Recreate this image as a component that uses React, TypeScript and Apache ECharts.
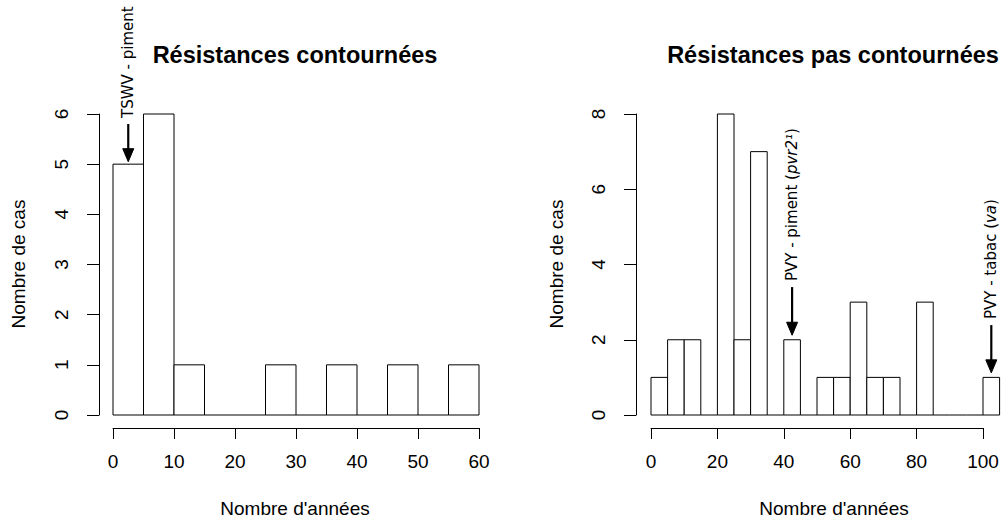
import React, { useEffect, useRef } from "react";
import * as echarts from "echarts";

// Histogram bin edges and counts
const leftBreaks = [0, 5, 10, 15, 20, 25, 30, 35, 40, 45, 50, 55, 60];
const leftCounts = [5, 6, 1, 0, 0, 1, 0, 1, 0, 1, 0, 1];

const rightBreaks = [0, 5, 10, 15, 20, 25, 30, 35, 40, 45, 50, 55, 60, 65, 70, 75, 80, 85, 90, 95, 100, 105];
const rightCounts = [1, 2, 2, 0, 8, 2, 7, 0, 2, 0, 1, 1, 3, 1, 1, 0, 3, 0, 0, 0, 1];

// Annotation arrows: x position, arrow top, arrow tip (data units)
const leftNotes = [{ x: 2.5, yFrom: 5.8, yTo: 5.05, label: "TSWV - piment" }];
const rightNotes = [
  { x: 42.5, yFrom: 3.4, yTo: 2.12, label: "PVY - piment ({i|pvr2¹})" },
  { x: 102.5, yFrom: 2.39, yTo: 1.12, label: "PVY - tabac ({i|va})" },
];

const titles = ["Résistances contournées", "Résistances pas contournées"];
const xName = "Nombre d'années";
const yName = "Nombre de cas";

const FONT = "Helvetica";
const NOTE_FONT = "DejaVu Sans";

function binsData(breaks: number[], counts: number[]) {
  return counts.map((c, i) => [breaks[i], breaks[i + 1], c]);
}

function histItem(params: any, api: any) {
  const x0 = api.value(0);
  const x1 = api.value(1);
  const c = api.value(2);
  const p0 = api.coord([x0, 0]);
  const p1 = api.coord([x1, c]);
  if (c === 0) {
    return {
      type: "line",
      shape: { x1: p0[0], y1: p0[1], x2: p1[0], y2: p0[1] },
      style: { stroke: "#000", lineWidth: 1 },
    };
  }
  return {
    type: "rect",
    shape: { x: p0[0], y: p1[1], width: p1[0] - p0[0], height: p0[1] - p1[1] },
    style: { fill: "#fff", stroke: "#000", lineWidth: 1 },
  };
}

function noteItem(notes: any[]) {
  return (params: any, api: any) => {
    const n = notes[params.dataIndex];
    const top = api.coord([api.value(0), api.value(1)]);
    const tip = api.coord([api.value(0), api.value(2)]);
    const hl = 13;
    const hw = 5.5;
    return {
      type: "group",
      children: [
        {
          type: "line",
          shape: { x1: top[0], y1: top[1], x2: tip[0], y2: tip[1] - hl + 2 },
          style: { stroke: "#000", lineWidth: 2.2 },
        },
        {
          type: "polygon",
          shape: {
            points: [
              [tip[0] - hw, tip[1] - hl],
              [tip[0] + hw, tip[1] - hl],
              [tip[0], tip[1]],
            ],
          },
          style: { fill: "#000", stroke: "#000", lineWidth: 1 },
        },
        {
          type: "text",
          x: top[0],
          y: top[1] - 6,
          rotation: Math.PI / 2,
          style: {
            text: n.label,
            fill: "#000",
            fontFamily: NOTE_FONT,
            fontSize: 15,
            align: "left",
            verticalAlign: "middle",
            rich: {
              i: { fontStyle: "italic", fontFamily: NOTE_FONT, fontSize: 15, fill: "#000" },
            },
          },
        },
      ],
    };
  };
}

const axisLabelStyle = { color: "#000", fontFamily: FONT, fontSize: 19 };

function txt(text: string, x: number, y: number, size: number, bold: boolean, rot: number) {
  return {
    type: "text",
    x,
    y,
    rotation: rot,
    style: {
      text,
      fontFamily: FONT,
      fontSize: size,
      fontWeight: bold ? "bold" : "normal",
      fill: "#000",
      align: "center",
      verticalAlign: "middle",
    },
  };
}

export default function App() {
  const ref = useRef<HTMLDivElement>(null);
  useEffect(() => {
    if (!ref.current) return;
    const chart = echarts.init(ref.current, undefined, { renderer: "svg" });
    const yAxisCommon = {
      type: "value",
      min: 0,
      splitLine: { show: false },
      axisLine: { show: true, onZero: false, lineStyle: { color: "#000", width: 1 } },
      axisTick: { show: true, length: 12, lineStyle: { color: "#000" } },
      axisLabel: { ...axisLabelStyle, rotate: 90, margin: 28 },
    };
    const xAxisCommon = {
      type: "value",
      min: 0,
      splitLine: { show: false },
      axisLine: { show: true, onZero: false, lineStyle: { color: "#000", width: 1 } },
      axisTick: { show: true, length: 11, lineStyle: { color: "#000" } },
      axisLabel: { ...axisLabelStyle, margin: 24 },
    };
    chart.setOption({
      animation: false,
      backgroundColor: "#fff",
      grid: [
        { left: 113, top: 114, width: 366, height: 301 },
        { left: 651, top: 114, width: 332, height: 301 },
      ],
      xAxis: [
        { ...xAxisCommon, gridIndex: 0, max: 60, interval: 10, offset: 13 },
        { ...xAxisCommon, gridIndex: 1, max: 100, interval: 20, offset: 13 },
      ],
      yAxis: [
        { ...yAxisCommon, gridIndex: 0, max: 6, interval: 1, offset: 14 },
        { ...yAxisCommon, gridIndex: 1, max: 8, interval: 2, offset: 15 },
      ],
      series: [
        {
          type: "custom",
          xAxisIndex: 0,
          yAxisIndex: 0,
          clip: false,
          renderItem: histItem,
          data: binsData(leftBreaks, leftCounts),
        },
        {
          type: "custom",
          xAxisIndex: 1,
          yAxisIndex: 1,
          clip: false,
          renderItem: histItem,
          data: binsData(rightBreaks, rightCounts),
        },
        {
          type: "custom",
          xAxisIndex: 0,
          yAxisIndex: 0,
          clip: false,
          renderItem: noteItem(leftNotes),
          data: leftNotes.map((n) => [n.x, n.yFrom, n.yTo]),
        },
        {
          type: "custom",
          xAxisIndex: 1,
          yAxisIndex: 1,
          clip: false,
          renderItem: noteItem(rightNotes),
          data: rightNotes.map((n) => [n.x, n.yFrom, n.yTo]),
        },
      ],
      graphic: [
        txt(titles[0], 295, 55, 23.5, true, 0),
        txt(titles[1], 833, 55, 23.5, true, 0),
        txt(xName, 295, 508, 19, false, 0),
        txt(xName, 834, 508, 19, false, 0),
        txt(yName, 18, 264, 19, false, Math.PI / 2),
        txt(yName, 556, 264, 19, false, Math.PI / 2),
      ],
    });
    return () => chart.dispose();
  }, []);
  return (
    <div
      ref={ref}
      style={{ position: "fixed", left: 0, top: 0, width: 1008, height: 519, background: "#fff" }}
    />
  );
}
